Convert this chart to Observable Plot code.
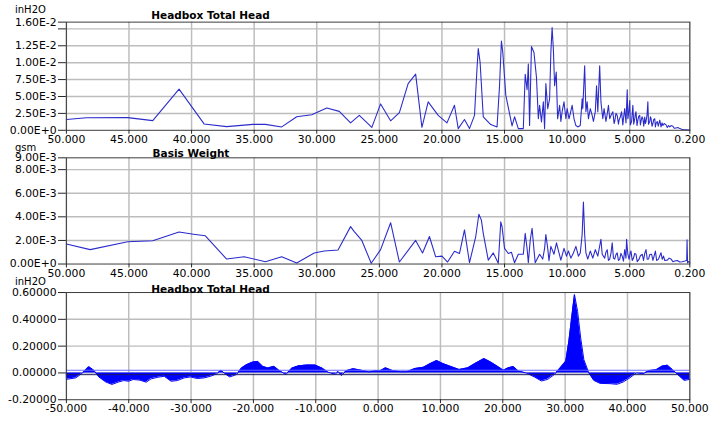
<!DOCTYPE html>
<html><head><meta charset="utf-8">
<script src="https://cdn.jsdelivr.net/npm/d3@7"></script>
<script src="https://cdn.jsdelivr.net/npm/@observablehq/plot@0.6"></script>
<style>
body{margin:0;background:#fff;}
#wrap{position:relative;width:709px;height:421px;overflow:hidden;font-family:"DejaVu Sans",sans-serif;}
#wrap svg{position:absolute;left:0;top:0;overflow:visible;background:transparent;}
</style></head><body><div id="wrap"></div>
<script>
// ---------- Panel 1: Headbox Total Head spectrum (x = wavelength, y in 1E-3 inH2O) ----------
const hbWave = [50,48.4,45.1,43.1,41.0,39.0,37.2,35.1,34.1,32.8,31.6,30.4,29.2,28.2,27.3,26.6,25.6,24.9,24.1,23.4,
22.7,22.1,21.6,21.1,20.3,19.6,19.0,18.7,18.2,17.8,17.4,17.2,17.1,16.95,16.7,16.1,15.6,15.4,15.25,15.14,
14.9,14.4,14.2,13.9,13.5,13.35,13.2,13.1,13.0,12.85,12.65,12.45,12.3,12.2,12.05,11.9,11.8,11.7,11.55,11.4,
11.3,11.2,11.1,11.0,10.87,10.76,10.6,10.5,10.4,10.25,10.1,10.0,9.85,9.75,9.6,9.45,9.3,9.15,8.95,8.8,
8.75,8.6,8.5,8.4,8.3,8.15,8.0,7.9,7.75,7.65,7.55,7.4,7.3,7.15,7.05,6.9,6.8,6.7,6.6,6.5,
6.35,6.25,6.2,6.1,6.0,5.9,5.85,5.75,5.65,5.55,5.5,5.4,5.3,5.2,5.15,5.08,5.0,4.95,4.85,4.8,
4.75,4.68,4.6,4.55,4.5,4.42,4.35,4.28,4.2,4.15,4.1,4.02,3.95,3.88,3.8,3.75,3.7,3.62,3.55,3.5,
3.4,3.35,3.3,3.22,3.15,3.08,3.0,2.95,2.9,2.8,2.72,2.6,2.5,2.42,2.35,2.25,2.1,2.0,1.9,1.8,
1.7,1.55,1.45,1.3,1.15,1.0,0.85,0.75,0.5,0.2];
const hbAmp = [1.6,1.85,1.87,1.43,6.08,0.94,0.54,0.88,0.88,0.5,2.0,2.3,3.3,2.8,1.1,2.2,0.44,3.9,1.4,2.6,
6.9,8.3,0.44,4.2,2.2,1.1,3.7,0.25,1.6,0.25,2.2,9.1,12.1,10.0,2.0,0.84,0.5,6.6,13.2,11.5,
5.2,0.65,2.0,0.25,0.25,8.3,6.0,9.8,0.7,12.4,11.5,7.85,1.7,3.7,1.25,4.2,0.25,6.9,3.2,4.65,
11.5,15.2,12.0,6.6,8.6,1.7,3.7,1.3,2.75,4.2,1.7,3.2,1.7,2.45,3.7,1.7,0.7,0.5,0.7,4.65,
3.2,9.55,2.75,4.2,1.7,3.2,2.2,1.3,2.75,6.6,2.75,9.55,4.2,1.7,3.2,1.3,2.4,3.7,1.7,2.2,
2.75,1.0,1.3,2.5,2.2,0.9,1.5,2.0,2.75,0.8,1.7,3.2,1.1,6.0,1.7,2.6,4.4,0.8,1.3,2.5,
3.7,0.9,1.7,2.4,2.75,0.7,1.5,2.1,2.2,0.8,1.3,2.0,1.7,0.6,1.95,1.0,1.3,2.2,4.2,0.9,
1.3,2.0,1.8,0.6,1.0,1.6,1.7,0.5,1.0,1.3,0.6,1.5,0.5,1.1,0.7,1.0,0.8,0.4,0.7,0.5,
0.7,0.6,0.3,0.35,0.4,0.25,0.15,0.1,0.08,0.05];

// ---------- Panel 2: Basis Weight spectrum (y in 1E-3 gsm) ----------
const bwWave = [50,48.1,45.1,43.1,41.0,39.85,38.9,37.2,35.8,34.1,32.8,31.6,30.2,29.4,28.3,27.3,27.0,26.4,25.65,24.9,
24.1,23.4,22.1,21.55,21.0,20.5,20.0,19.55,19.0,18.6,18.2,17.8,17.3,17.05,16.85,16.7,16.3,15.9,15.5,15.3,
15.2,15.0,14.7,14.45,14.2,13.9,13.5,13.35,13.2,13.1,12.95,12.8,12.65,12.55,12.2,11.95,11.8,11.7,11.55,11.45,
11.3,11.05,10.85,10.65,10.5,10.25,10.05,9.9,9.7,9.5,9.3,9.1,8.95,8.8,8.7,8.6,8.5,8.35,8.15,7.95,
7.75,7.55,7.3,7.2,7.0,6.9,6.8,6.7,6.6,6.5,6.4,6.3,6.2,6.1,6.0,5.9,5.8,5.7,5.6,5.5,
5.4,5.3,5.25,5.15,5.05,4.95,4.9,4.8,4.7,4.6,4.5,4.4,4.25,4.15,4.0,3.9,3.8,3.7,3.6,3.5,
3.4,3.25,3.15,3.05,2.95,2.85,2.7,2.6,2.5,2.4,2.3,2.2,2.0,1.85,1.7,1.55,1.4,1.2,1.0,0.8,
0.6,0.45,0.42,0.38,0.3,0.2];
const bwAmp = [1.69,1.22,1.89,1.97,2.72,2.53,2.39,0.42,0.61,0.2,0.61,0.08,0.94,1.1,1.19,3.17,2.75,2.0,0.06,1.22,
3.5,0.17,2.0,0.94,2.33,0.61,0.67,0.17,1.08,0.89,2.89,0.11,2.33,4.22,3.72,2.6,0.33,0.94,0.06,3.58,
3.17,1.33,0.89,1.0,0.11,0.83,0.83,2.6,1.33,0.11,2.0,3.03,1.22,0.11,0.83,0.42,1.33,2.5,1.33,0.28,
1.5,0.83,1.8,0.94,0.33,1.33,0.67,1.1,0.5,0.94,1.5,0.67,0.94,2.5,5.25,2.5,0.94,0.42,1.1,0.5,
1.22,0.67,2.1,0.83,0.5,1.0,1.22,0.3,0.42,0.9,1.8,0.5,0.42,0.8,0.94,0.3,0.42,0.9,0.67,0.25,
1.22,0.5,2.1,0.83,0.4,1.0,1.1,0.3,0.5,0.9,0.83,0.2,0.42,0.7,0.83,0.3,0.9,1.22,0.4,0.42,
0.8,0.83,0.3,0.7,1.1,0.3,0.42,0.7,0.95,0.4,0.67,0.3,0.33,0.5,0.42,0.2,0.25,0.3,0.17,0.2,
0.25,0.3,2.05,0.1,0.2,0.15];

// ---------- Panel 3: Headbox Total Head profile (inH2O) ----------
const profPos = [-50,-48.5,-47.4,-46.4,-45.6,-44.8,-43.7,-42.7,-41.6,-40.8,-40.0,-39.3,-38.2,-37.2,-36.4,-35.3,-34.3,-33.2,-32.2,-31.1,
-30.1,-29.0,-27.9,-26.9,-25.9,-25.2,-24.6,-23.8,-22.7,-21.9,-21.1,-20.1,-19.3,-18.5,-17.7,-16.7,-15.9,-14.8,-13.8,-12.7,
-11.4,-10.1,-9.0,-8.0,-6.9,-6.4,-5.9,-5.1,-4.0,-2.7,-1.4,-0.4,0.4,1.2,2.3,3.6,4.6,5.9,7.3,8.3,
9.4,10.4,11.5,13.0,14.4,15.7,17.0,18.0,19.1,20.1,20.9,21.7,22.5,23.8,25.1,26.2,27.2,28.3,29.3,30.1,
30.6,31.2,31.5,32.0,32.5,33.0,33.8,34.6,35.6,37.2,38.3,39.3,40.4,41.4,42.5,43.5,44.6,45.6,46.4,47.2,
48.3,49.1,50];
const profVal = [-0.048,-0.037,0,0.047,0.02,-0.03,-0.067,-0.086,-0.067,-0.057,-0.062,-0.049,-0.054,-0.069,-0.044,-0.032,-0.025,-0.062,-0.057,-0.037,
-0.03,-0.042,-0.037,-0.025,-0.007,0.02,-0.005,-0.03,-0.012,0.037,0.062,0.081,0.086,0.049,0.037,0.049,0.02,-0.012,0.037,0.054,
0.059,0.059,0.037,0.005,-0.01,0.01,-0.02,0.017,0.032,0.02,0.007,0.018,0.018,0.038,0.018,0.009,0.009,0.033,0.043,0.068,
0.093,0.07,0.051,0.026,0.038,0.075,0.107,0.083,0.051,0.021,0.038,0.048,0.014,-0.001,-0.031,-0.06,-0.048,-0.011,0.043,0.088,
0.237,0.472,0.585,0.459,0.26,0.1,0,-0.056,-0.078,-0.08,-0.085,-0.068,-0.036,0,-0.006,0.018,0.023,0.051,0.058,0.026,
-0.023,-0.056,-0.048];
const profLimits = [0.02, -0.013];

// ---------- Ticks and labels ----------
const specXTicks = [50,45,40,35,30,25,20,15,10,5,0.2];
const specXLabels = ["50.000","45.000","40.000","35.000","30.000","25.000","20.000","15.000","10.000","5.000","0.200"];
const hbYTicks = [0,2.5,5,7.5,10,12.5,15,16];
const hbYLabels = ["0.00E+0","2.50E-3","5.00E-3","7.50E-3","1.00E-2","1.25E-2","","1.60E-2"];
const bwYTicks = [0,2,4,6,8,9];
const bwYLabels = ["0.00E+0","2.00E-3","4.00E-3","6.00E-3","8.00E-3","9.00E-3"];
const profXTicks = [-50,-40,-30,-20,-10,0,10,20,30,40,50];
const profXLabels = ["-50.000","-40.000","-30.000","-20.000","-10.000","0.000","10.000","20.000","30.000","40.000","50.000"];
const profYTicks = [-0.2,0,0.2,0.4,0.6];
const profYLabels = ["-0.20000","0.00000","0.20000","0.40000","0.60000"];

const titles = [
  {unit:"inH2O", title:"Headbox Total Head", uy:12.5, ty:19, tx:210.5},
  {unit:"gsm", title:"Basis Weight", uy:150.5, ty:157, tx:191},
  {unit:"inH2O", title:"Headbox Total Head", uy:284.5, ty:293, tx:210.5}
];

const W = 721, H = 421;
const wrap = document.getElementById("wrap");
const GRID = "#bdbdbd", LINE = "#2b2bcc";

function panel(o) {
  const xm = new Map(o.xTicks.map((d,i)=>[d,o.xLabels[i]]));
  const ym = new Map(o.yTicks.map((d,i)=>[d,o.yLabels[i]]));
  const svg = Plot.plot({
    width: W, height: H,
    marginLeft: 67, marginRight: 20, marginTop: o.top, marginBottom: H - o.bottom,
    style: {fontFamily: "DejaVu Sans, sans-serif", fontSize: "11px", color: "#000", background: "transparent", overflow: "visible"},
    x: {domain: o.xDomain},
    y: {domain: o.yDomain},
    marks: [
      Plot.gridX(o.xTicks, {stroke: GRID, strokeOpacity: 1, strokeWidth: 1.5}),
      Plot.gridY(o.gridY, {stroke: GRID, strokeOpacity: 1, strokeWidth: 1.5}),
      ...o.marks,
      Plot.frame({stroke: "#3a3a3a", strokeWidth: 1}),
      Plot.axisX(o.xTicks, {tickFormat: d => xm.get(d), tickSize: 4, tickPadding: 1, label: null, stroke: "#222"}),
      Plot.axisY(o.yTicks, {tickFormat: d => ym.get(d), tickSize: 8, tickPadding: 2, label: null, stroke: "#222"})
    ]
  });
  wrap.appendChild(svg);
}

panel({top: 22, bottom: 132, xDomain: [50, 0.2], xTicks: specXTicks, xLabels: specXLabels,
  yDomain: [0, 16], yTicks: hbYTicks, yLabels: hbYLabels, gridY: [2.5,5,7.5,10,12.5,15],
  marks: [Plot.lineY(hbAmp, {x: hbWave, stroke: LINE, strokeWidth: 1.1})]});

panel({top: 160, bottom: 268, xDomain: [50, 0.2], xTicks: specXTicks, xLabels: specXLabels,
  yDomain: [0, 9], yTicks: bwYTicks, yLabels: bwYLabels, gridY: [2,4,6,8],
  marks: [Plot.lineY(bwAmp, {x: bwWave, stroke: LINE, strokeWidth: 1.1})]});

panel({top: 297, bottom: 406, xDomain: [-50, 50], xTicks: profXTicks, xLabels: profXLabels,
  yDomain: [-0.2, 0.6], yTicks: profYTicks, yLabels: profYLabels, gridY: [0,0.2,0.4],
  marks: [
    Plot.areaY(profVal, {x: profPos, fill: "#0000ff"}),
    Plot.lineY(profVal, {x: profPos, stroke: "#0000ff", strokeWidth: 1}),
    Plot.ruleY([profLimits[0]], {stroke: "#6a6aff", strokeWidth: 1}),
    Plot.ruleY([profLimits[1]], {stroke: "#1c1c60", strokeWidth: 1})
  ]});

// titles and unit labels
const ov = d3.select(wrap).append("svg").attr("width", W).attr("height", H)
  .style("font-family", "DejaVu Sans, sans-serif");
for (const t of titles) {
  ov.append("text").attr("x", 15).attr("y", t.uy).attr("font-size", 10).text(t.unit);
  ov.append("text").attr("x", t.tx).attr("y", t.ty).attr("text-anchor", "middle")
    .attr("font-size", 10.5).attr("font-weight", "bold").text(t.title);
}
</script></body></html>
